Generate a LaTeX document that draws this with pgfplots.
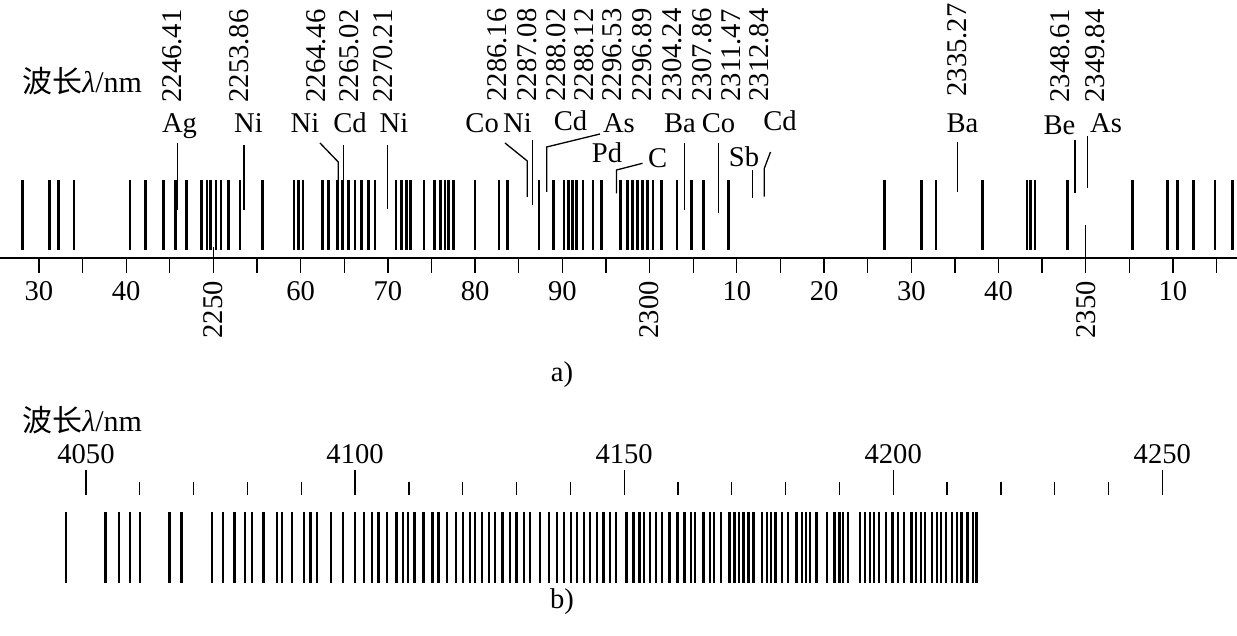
\documentclass[border=0pt]{standalone}
\usepackage{fontspec}
\setmainfont{Liberation Serif}
\newfontfamily\cjk{Noto Sans CJK SC}
\usepackage{pgfplots}
\usepackage{pgfplotstable}
\pgfplotsset{compat=1.18}

% panel a: regular spectral lines (nm), bottom of line
\pgfplotstableread{
x y0
2228.13 8
2231.18 8
2232.26 8
2234.01 8
2240.43 8
2242.23 8
2244.25 8
2245.63 8
2246.93 8
2248.65 8
2249.26 8
2249.68 8
2250.29 8
2250.86 8
2251.70 8
2253.04 8
2255.62 8
2259.23 8
2259.75 8
2260.27 8
2262.50 8
2263.17 8
2264.22 8
2264.79 8
2265.46 8
2266.23 8
2266.99 8
2267.75 8
2268.52 8
2270.93 8
2271.58 8
2272.15 8
2272.61 8
2274.14 8
2275.32 8
2276.05 8
2276.54 8
2276.92 8
2277.50 8
2279.98 8
2282.73 8
2283.69 8
2287.32 8
2288.96 8
2290.19 8
2290.68 8
2291.18 8
2291.64 8
2292.36 8
2293.51 8
2294.51 8
2296.64 8
2297.49 8
2298.06 8
2298.64 8
2299.21 8
2299.78 8
2300.39 8
2301.34 8
2303.14 8
2304.80 8
2306.16 8
2309.02 8
2326.91 8
2331.19 8
2332.83 8
2338.16 8
2343.26 8
2343.67 8
2344.18 8
2347.89 8
2355.34 8
2359.39 8
2360.54 8
2362.33 8
2364.82 8
2366.80 8
}\linesA

% panel a: identified lines (leader lines): x, bottom, length
\pgfplotstableread{
x y0 len
2245.85 48 67
2253.50 48 65
2264.91 48 65
2269.93 49 64
2286.60 53 65
2304.00 48 67
2307.87 45 70
2311.80 60 28
2335.30 66 50
2348.77 65 53
2350.20 70 52
}\leadA

% panel b: spectral lines (nm), bottom of line
\pgfplotstableread{
x y0
4046.23 -88
4053.59 -88
4056.13 -88
4058.18 -88
4060.03 -88
4065.48 -88
4067.78 -88
4073.36 -88
4075.51 -88
4077.56 -88
4079.55 -88
4080.90 -88
4082.95 -88
4085.44 -88
4086.37 -88
4088.28 -88
4090.51 -88
4091.75 -88
4092.87 -88
4095.53 -88
4097.81 -88
4099.99 -88
4101.71 -88
4103.09 -88
4104.32 -88
4105.88 -88
4107.73 -88
4108.91 -88
4109.83 -88
4111.04 -88
4112.68 -88
4114.35 -88
4115.47 -88
4117.03 -88
4118.75 -88
4120.11 -88
4121.36 -88
4122.28 -88
4123.53 -88
4124.94 -88
4126.00 -88
4127.43 -88
4128.79 -88
4130.03 -88
4131.39 -88
4132.50 -88
4134.36 -88
4136.09 -88
4137.47 -88
4138.82 -88
4140.07 -88
4141.29 -88
4142.54 -88
4143.65 -88
4144.90 -88
4146.13 -88
4147.37 -88
4148.49 -88
4150.47 -88
4151.70 -88
4152.82 -88
4153.74 -88
4154.80 -88
4155.92 -88
4156.98 -88
4158.39 -88
4159.88 -88
4161.18 -88
4162.37 -88
4163.17 -88
4164.71 -88
4165.95 -88
4166.70 -88
4168.00 -88
4169.54 -88
4170.47 -88
4171.34 -88
4172.14 -88
4173.07 -88
4174.00 -88
4175.56 -88
4176.49 -88
4177.29 -88
4178.16 -88
4179.28 -88
4180.50 -88
4182.06 -88
4183.05 -88
4183.79 -88
4184.54 -88
4185.71 -88
4187.64 -88
4189.05 -88
4189.98 -88
4190.72 -88
4191.65 -88
4193.83 -88
4194.76 -88
4195.68 -88
4196.43 -88
4197.41 -88
4198.66 -88
4199.90 -88
4200.94 -88
4202.00 -88
4203.43 -88
4204.23 -88
4205.11 -88
4205.91 -88
4207.15 -88
4208.08 -88
4208.88 -88
4209.81 -88
4210.87 -88
4211.80 -88
4212.72 -88
4213.77 -88
4214.77 -88
4215.51 -88
}\linesB

\begin{document}
\fontsize{14.3}{17}\selectfont
\begin{tikzpicture}
% ---------------- panel a ----------------
\begin{axis}[at={(0pt,189pt)}, anchor=south west,
  x=4.3615pt, y=0.5pt,
  xmin=2225.53, xmax=2367.34, ymin=0, ymax=258,
  axis x line=bottom, axis y line=none,
  axis line style={-, line width=0.7pt},
  xtick={2230,2235,...,2365},
  xticklabels={30,,40,,\rotatebox{90}{2250},,60,,70,,80,,90,,\rotatebox{90}{2300},,10,,20,,30,,40,,\rotatebox{90}{2350},,10,},
  tick align=outside, major tick length=7.5pt,
  tick style={black, line width=0.65pt},
  xticklabel style={inner sep=1pt, yshift=-3pt},
  clip=false]
\addplot[black, line width=1.35pt, -, quiver={u=0,v=70}] table[x=x, y=y0] {\linesA};
\addplot[black, line width=0.65pt, -, quiver={u=0,v=\thisrow{len}}] table[x=x, y=y0] {\leadA};
\addplot[black, line width=0.65pt] coordinates {(2262.21,115) (2264.31,96) (2264.31,48)};
\addplot[black, line width=0.65pt] coordinates {(2283.42,115) (2285.98,97) (2285.98,61)};
\addplot[black, line width=0.65pt] coordinates {(2294.31,124) (2288.20,111) (2288.20,66)};
\addplot[black, line width=0.65pt] coordinates {(2299.19,94.7) (2296.21,88) (2296.21,64.7)};
\addplot[black, line width=0.65pt] coordinates {(2313.86,106) (2313.15,89.7) (2313.15,61.3)};
\addplot[black, line width=0.65pt] coordinates {(2250,-15) (2250,11)};
\addplot[black, line width=0.65pt] coordinates {(2350,-15) (2350,33)};
% element names
\node[anchor=base] at (axis cs:2246.11,125) {Ag};
\node[anchor=base] at (axis cs:2254.02,125) {Ni};
\node[anchor=base] at (axis cs:2260.49,125) {Ni};
\node[anchor=base] at (axis cs:2265.65,125) {Cd};
\node[anchor=base] at (axis cs:2270.70,125) {Ni};
\node[anchor=base] at (axis cs:2280.80,125) {Co};
\node[anchor=base] at (axis cs:2284.85,125) {Ni};
\node[anchor=base] at (axis cs:2290.93,127) {Cd};
\node[anchor=base] at (axis cs:2296.49,125) {As};
\node[anchor=base] at (axis cs:2295.12,95) {Pd};
\node[anchor=base] at (axis cs:2300.91,90) {C};
\node[anchor=base] at (axis cs:2303.48,125) {Ba};
\node[anchor=base] at (axis cs:2307.90,125) {Co};
\node[anchor=base] at (axis cs:2310.82,91) {Sb};
\node[anchor=base] at (axis cs:2314.95,127) {Cd};
\node[anchor=base] at (axis cs:2335.87,125) {Ba};
\node[anchor=base] at (axis cs:2346.99,123) {Be};
\node[anchor=base] at (axis cs:2352.32,125) {As};
% wavelengths
\node[rotate=90, anchor=west, inner sep=0pt] at (axis cs:2245.25,155) {2246.41};
\node[rotate=90, anchor=west, inner sep=0pt] at (axis cs:2252.93,155) {2253.86};
\node[rotate=90, anchor=west, inner sep=0pt] at (axis cs:2261.76,155) {2264.46};
\node[rotate=90, anchor=west, inner sep=0pt] at (axis cs:2265.54,155) {2265.02};
\node[rotate=90, anchor=west, inner sep=0pt] at (axis cs:2269.44,155) {2270.21};
\node[rotate=90, anchor=west, inner sep=0pt] at (axis cs:2282.56,156) {2286.16};
\node[rotate=90, anchor=west, inner sep=0pt] at (axis cs:2286.00,156) {2287.08};
\node[rotate=90, anchor=west, inner sep=0pt] at (axis cs:2289.27,156) {2288.02};
\node[rotate=90, anchor=west, inner sep=0pt] at (axis cs:2292.48,156) {2288.12};
\node[rotate=90, anchor=west, inner sep=0pt] at (axis cs:2295.75,156) {2296.53};
\node[rotate=90, anchor=west, inner sep=0pt] at (axis cs:2299.19,156) {2296.89};
\node[rotate=90, anchor=west, inner sep=0pt] at (axis cs:2302.62,156) {2304.24};
\node[rotate=90, anchor=west, inner sep=0pt] at (axis cs:2306.06,156) {2307.86};
\node[rotate=90, anchor=west, inner sep=0pt] at (axis cs:2309.33,156) {2311.47};
\node[rotate=90, anchor=west, inner sep=0pt] at (axis cs:2312.54,156) {2312.84};
\node[rotate=90, anchor=west, inner sep=0pt] at (axis cs:2335.21,161) {2335.27};
\node[rotate=90, anchor=west, inner sep=0pt] at (axis cs:2347.05,155) {2348.61};
\node[rotate=90, anchor=west, inner sep=0pt] at (axis cs:2351.06,155) {2349.84};
\end{axis}
% ---------------- panel b ----------------
\begin{axis}[at={(0pt,0pt)}, anchor=south west,
  x=2.69075pt, y=0.5pt,
  xmin=4034.02, xmax=4263.88, ymin=-141, ymax=0,
  axis x line=top, axis y line=none,
  x axis line style={draw=none},
  xtick={4050,4100,...,4250},
  xticklabels={4050,4100,4150,4200,4250},
  minor x tick num=4,
  tick align=outside, major tick length=12.5pt, minor tick length=6.5pt,
  tick style={black, line width=0.65pt},
  xticklabel style={inner sep=1pt, yshift=2pt},
  clip=false]
\addplot[black, line width=1.2pt, -, quiver={u=0,v=71}] table[x=x, y=y0] {\linesB};
\end{axis}
% labels
\node[anchor=base west, inner sep=0pt] at (11pt,271.5pt) {\fontsize{15}{17}\selectfont{\cjk 波长}\textit{λ}/nm};
\node[anchor=base west, inner sep=0pt] at (11pt,102pt) {\fontsize{15}{17}\selectfont{\cjk 波长}\textit{λ}/nm};
\node at (281pt,130.5pt) {a)};
\node at (281pt,17pt) {b)};
\pgfresetboundingbox
\useasboundingbox (0,0) rectangle (618.5pt,318pt);
\end{tikzpicture}
\end{document}
